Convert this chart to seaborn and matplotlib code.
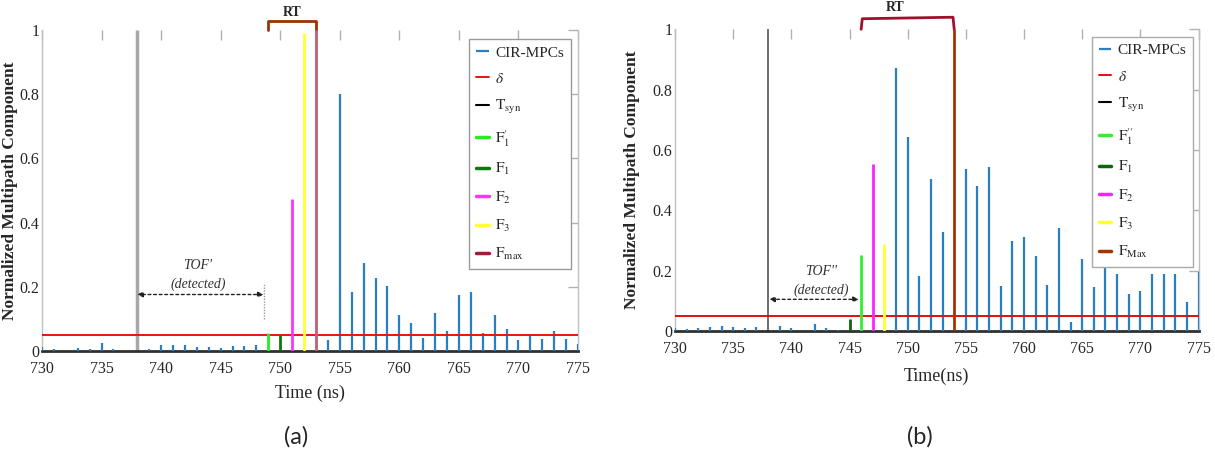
import numpy as np
import pandas as pd
import matplotlib
matplotlib.use("Agg")
import matplotlib.pyplot as plt
import seaborn as sns

# ---------------- data ----------------
# Panel (a)
a_cir_t = [730, 731, 733, 734, 735, 736, 739, 740, 741, 742, 743, 744, 745, 746, 747, 748,
           754, 755, 756, 757, 758, 759, 760, 761, 762, 763, 764, 765, 766, 767, 768, 769,
           770, 771, 772, 773, 774, 775]
a_cir_v = [0.014, 0.005, 0.008, 0.005, 0.024, 0.005, 0.005, 0.018, 0.02, 0.018, 0.012, 0.012,
           0.01, 0.015, 0.015, 0.018,
           0.033, 0.80, 0.183, 0.274, 0.227, 0.204, 0.113, 0.087, 0.039, 0.118, 0.061, 0.175,
           0.183, 0.055, 0.112, 0.067, 0.033, 0.049, 0.036, 0.063, 0.036, 0.022]
a_delta = 0.05
a_tsyn = 738
a_marks_t = [749, 750, 751, 752, 753]        # F'1, F1, F2, F3, Fmax
a_marks_v = [0.055, 0.05, 0.475, 0.99, 1.0]
a_rt = [749, 753]
a_tof = [738, 748.6]

# Panel (b)
b_cir_t = [730, 731, 732, 733, 734, 735, 736, 737, 739, 740, 742, 743, 744,
           749, 750, 751, 752, 753, 755, 756, 757, 758, 759, 760, 761, 762, 763, 764,
           765, 766, 767, 768, 769, 770, 771, 772, 773, 774, 775]
b_cir_v = [0.009, 0.005, 0.009, 0.012, 0.016, 0.012, 0.009, 0.012, 0.016, 0.009, 0.022, 0.009,
           0.003,
           0.872, 0.643, 0.182, 0.504, 0.328, 0.537, 0.481, 0.544, 0.149, 0.298, 0.312, 0.249,
           0.152, 0.341, 0.03, 0.239, 0.146, 0.249, 0.189, 0.124, 0.133, 0.189, 0.189, 0.189,
           0.096, 0.196]
b_delta = 0.05
b_tsyn = 738
b_marks_t = [746, 745, 747, 748, 754]        # F''1, F1, F2, F3, FMax
b_marks_v = [0.252, 0.04, 0.553, 0.288, 1.0]
b_rt = [746, 754]
b_tof = [738.1, 745.8]

x_ticks = [730, 735, 740, 745, 750, 755, 760, 765, 770, 775]
y_ticks = [0, 0.2, 0.4, 0.6, 0.8, 1]
y_ticklabels = ["0", "0.2", "0.4", "0.6", "0.8", "1"]

# ---------------- style ----------------
sns.set_theme(style="white")
plt.rcParams["font.family"] = ["Liberation Serif", "DejaVu Serif"]
plt.rcParams["mathtext.fontset"] = "stix"

BLUE = "#2a7fc0"
fig = plt.figure(figsize=(12.15, 4.63), dpi=100)

W, H = 1215, 463
ax_a = fig.add_axes([42 / W, 1 - 351 / H, 536 / W, 321 / H])
ax_b = fig.add_axes([675 / W, 1 - 331 / H, 523.5 / W, 301.7 / H])


def base_axes(ax, xlabel, ylab_x, xlab_pad):
    ax.set_xlim(730, 775)
    ax.set_ylim(0, 1)
    ax.set_xticks(x_ticks)
    ax.set_yticks(y_ticks)
    ax.set_yticklabels(y_ticklabels)
    ax.tick_params(direction="in", top=True, right=True, length=7, width=1,
                   color="#b0b0b0", labelsize=11.5)
    ax.tick_params(axis="x", pad=7)
    ax.tick_params(axis="y", pad=2)
    for s in ["left", "right"]:
        ax.spines[s].set_color("#c0c0c0")
        ax.spines[s].set_linewidth(1)
    ax.spines["top"].set_visible(False)
    ax.spines["bottom"].set_color("#303030")
    ax.spines["bottom"].set_linewidth(2)
    ax.set_xlabel(xlabel, fontsize=13, labelpad=xlab_pad)
    ax.set_ylabel("Normalized Multipath Component", fontsize=12.5, fontweight="bold")
    ax.yaxis.set_label_coords(ylab_x, 0.5)


def add_legend(ax, anchor, ec):
    leg = ax.legend(loc="upper right", bbox_to_anchor=anchor, fontsize=11,
                    labelspacing=0.8, handlelength=0.8, handletextpad=0.45,
                    borderpad=0.45, borderaxespad=0, frameon=True, fancybox=False,
                    edgecolor=ec, framealpha=1)
    leg.get_frame().set_linewidth(1)
    leg.set_zorder(10)
    return leg


# ---------------- panel (a) ----------------
ax = ax_a
base_axes(ax, "Time (ns)", -0.045, 6)
ax.vlines(a_cir_t, 0, a_cir_v, color=BLUE, lw=1.6, label="CIR-MPCs", zorder=3)
dfa = pd.DataFrame({"t": [730, 775], "v": [a_delta, a_delta]})
sns.lineplot(data=dfa, x="t", y="v", ax=ax, color="#ee1111", lw=1.4, label=r"$\delta$", zorder=4)
ax.vlines([a_tsyn], 0, 1, color="#a8a8a8", lw=2.5, zorder=2)
ax.plot([], [], color="black", lw=1.5, label=r"$\mathrm{T_{syn}}$")
a_cols = ["#22ee22", "#0a7a0a", "#ff33ff", "#ffff33", "#c06070"]
a_labels = [r"$\mathrm{F^{\prime}_{1}}$", r"$\mathrm{F_{1}}$", r"$\mathrm{F_{2}}$",
            r"$\mathrm{F_{3}}$", r"$\mathrm{F_{max}}$"]
a_legcols = ["#22ee22", "#0a7a0a", "#ff33ff", "#ffff33", "#a01a3a"]
for t, v, c, lc, lb in zip(a_marks_t, a_marks_v, a_cols, a_legcols, a_labels):
    ax.vlines([t], 0, v, color=c, lw=2, zorder=5)
    ax.plot([], [], color=lc, lw=2.5, label=lb)
ax.set_xlabel("Time (ns)")
add_legend(ax, (0.987, 0.972), "#999999")

# RT bracket
ax.plot([a_rt[0], a_rt[0], a_rt[1], a_rt[1]], [1.0, 1.027, 1.027, 1.0],
        color="#993300", lw=2, clip_on=False)
ax.text(np.mean(a_rt), 1.033, "RT", ha="center", va="bottom", fontsize=10,
        fontweight="bold", clip_on=False)
# TOF' annotation
ax.annotate("", xy=(a_tof[0], 0.176), xytext=(a_tof[1], 0.176),
            arrowprops=dict(arrowstyle="<|-|>", ls=(0, (2, 2)), color="#222222",
                            lw=1, mutation_scale=8, shrinkA=0, shrinkB=0))
ax.vlines([a_tof[1]], 0.10, 0.21, color="#999999", lw=1, ls=(0, (1, 1)))
ax.text(743.1, 0.265, "TOF'", ha="center", va="center", fontsize=10, style="italic",
        color="#333333")
ax.text(743.1, 0.207, "(detected)", ha="center", va="center", fontsize=10, style="italic",
        color="#333333")

# ---------------- panel (b) ----------------
ax = ax_b
base_axes(ax, "Time(ns)", -0.067, 8)
ax.vlines(b_cir_t, 0, b_cir_v, color=BLUE, lw=1.6, label="CIR-MPCs", zorder=3)
dfb = pd.DataFrame({"t": [730, 775], "v": [b_delta, b_delta]})
sns.lineplot(data=dfb, x="t", y="v", ax=ax, color="#dd1111", lw=1.4, label=r"$\delta$", zorder=4)
ax.vlines([b_tsyn], 0, 1, color="#555555", lw=1.2, zorder=2)
ax.plot([], [], color="black", lw=1.5, label=r"$\mathrm{T_{syn}}$")
b_cols = ["#33ee33", "#0a6a0a", "#ff22ff", "#ffff33", "#a83200"]
b_labels = [r"$\mathrm{F^{\prime\prime}_{1}}$", r"$\mathrm{F_{1}}$", r"$\mathrm{F_{2}}$",
            r"$\mathrm{F_{3}}$", r"$\mathrm{F_{Max}}$"]
for t, v, c, lb in zip(b_marks_t, b_marks_v, b_cols, b_labels):
    ax.vlines([t], 0, v, color=c, lw=2, zorder=5)
    ax.plot([], [], color=c, lw=2.5, label=lb)
ax.set_xlabel("Time(ns)")
add_legend(ax, (0.99, 0.975), "#aaaaaa")

ax.plot([b_rt[0], b_rt[0] + 0.1, b_rt[1] - 0.1, b_rt[1]], [1.0, 1.035, 1.04, 1.0],
        color="#a0102a", lw=2, clip_on=False)
ax.text(748.9, 1.05, "RT", ha="center", va="bottom", fontsize=10,
        fontweight="bold", clip_on=False)
ax.annotate("", xy=(b_tof[0], 0.105), xytext=(b_tof[1], 0.105),
            arrowprops=dict(arrowstyle="<|-|>", ls=(0, (2, 2)), color="#222222",
                            lw=1, mutation_scale=8, shrinkA=0, shrinkB=0))
ax.text(742.6, 0.197, "TOF''", ha="center", va="center", fontsize=10, style="italic",
        color="#333333")
ax.text(742.6, 0.136, "(detected)", ha="center", va="center", fontsize=10, style="italic",
        color="#333333")

# panel labels
fig.text(296 / W, 1 - 437 / H, "(a)", ha="center", va="center", fontsize=17,
         family=["Lato", "DejaVu Sans"])
fig.text(920 / W, 1 - 437 / H, "(b)", ha="center", va="center", fontsize=17,
         family=["Lato", "DejaVu Sans"])

fig.savefig("out.png", dpi=100)
